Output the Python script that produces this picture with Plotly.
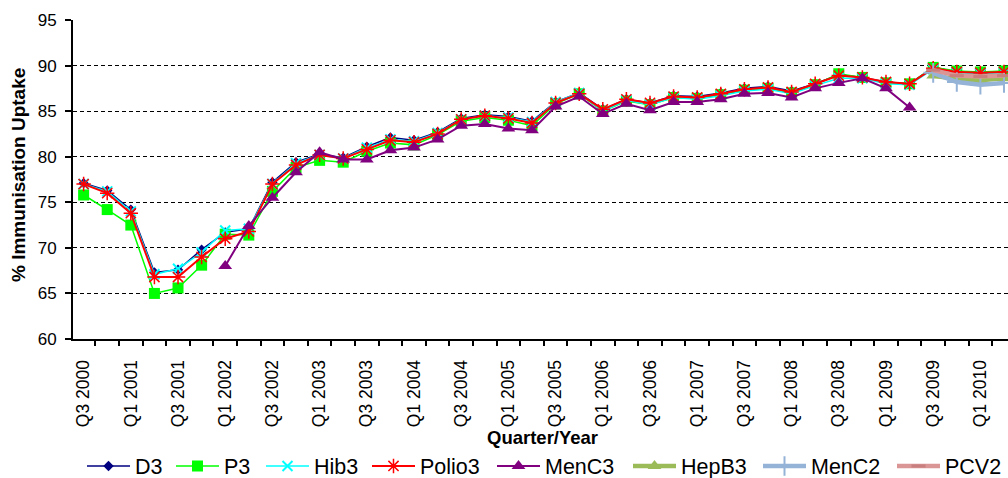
import plotly.graph_objects as go

# ---- data ----
quarters = []
for yr in range(2000, 2011):
    for q in (1, 2, 3, 4):
        quarters.append(f"Q{q} {yr}")
quarters = quarters[2:42]  # Q3 2000 .. Q2 2010

d3 = [77.1, 76.3, 74.2, 67.3, 67.6, 69.8, 71.7, 72.1, 77.2, 79.4,
      80.3, 79.9, 81.1, 82.1, 81.8, 82.7, 84.2, 84.6, 84.4, 83.9,
      86.0, 87.0, 85.2, 86.3, 85.9, 86.7, 86.6, 87.0, 87.5, 87.7,
      87.2, 88.0, 89.0, 88.7, 88.2, 88.0, 89.8, 89.3, 89.2, 89.3]
p3 = [75.8, 74.2, 72.5, 65.0, 65.6, 68.1, 71.5, 71.4, 76.2, 78.8,
      79.6, 79.4, 80.6, 81.5, 81.3, 82.4, 83.9, 84.3, 84.0, 83.4,
      85.8, 86.9, 85.0, 86.1, 85.7, 86.5, 86.4, 86.8, 87.3, 87.5,
      87.0, 87.9, 89.1, 88.7, 88.1, 88.0, 89.8, 89.4, 89.3, 89.4]
hib3 = [77.0, 76.2, 74.0, 67.1, 67.7, 69.5, 71.9, 72.1, 77.0, 79.3,
        80.2, 79.8, 81.0, 81.9, 81.7, 82.6, 84.1, 84.5, 84.3, 83.8,
        86.0, 87.0, 85.0, 86.2, 85.7, 86.5, 86.3, 86.7, 87.2, 87.4,
        86.9, 87.8, 88.6, 88.6, 88.0, 87.9, 89.6, 89.2, 89.1, 89.2]
polio3 = [77.0, 76.0, 73.8, 66.8, 66.8, 69.0, 71.0, 71.8, 77.0, 79.1,
          80.2, 79.8, 80.8, 81.8, 81.6, 82.5, 84.1, 84.5, 84.2, 83.7,
          85.9, 86.9, 85.2, 86.3, 85.9, 86.6, 86.5, 86.9, 87.4, 87.6,
          87.1, 88.0, 88.9, 88.7, 88.2, 88.0, 89.7, 89.3, 89.2, 89.3]
menc3 = [None] * 6 + [68.0, 72.4, 75.5, 78.3,
                      80.5, 79.7, 79.7, 80.7, 81.0, 81.9, 83.4, 83.6, 83.1, 82.9,
                      85.5, 86.6, 84.7, 85.8, 85.1, 86.0, 86.0, 86.3, 86.9, 87.0,
                      86.5, 87.5, 88.1, 88.6, 87.5, 85.4] + [None] * 4
hepb3 = [None] * 36 + [88.9, 88.5, 88.4, 88.6]
menc2 = [None] * 36 + [89.2, 88.2, 87.9, 88.1]
pcv2 = [None] * 36 + [89.5, 88.9, 88.8, 88.9]

tick_text = [q if i % 2 == 0 else "" for i, q in enumerate(quarters)]

FONT = "Arial, Liberation Sans, sans-serif"

series = [
    ("D3", d3, "#000080", 1.5, dict(symbol="diamond", size=8, color="#000080")),
    ("P3", p3, "#00FF00", 1.5, dict(symbol="square", size=11, color="#00FF00")),
    ("Hib3", hib3, "#00FFFF", 1.5, dict(symbol="x-thin-open", size=10, color="#00FFFF",
                                       line=dict(width=2, color="#00FFFF"))),
    ("Polio3", polio3, "#FF0000", 2, dict(symbol="asterisk-open", size=12, color="#FF0000",
                                         line=dict(width=1.5, color="#FF0000"))),
    ("MenC3", menc3, "#800080", 2, dict(symbol="triangle-up", size=12, color="#800080")),
    ("HepB3", hepb3, "#9BBB59", 4.5, dict(symbol="triangle-up", size=12, color="#9BBB59")),
    ("MenC2", menc2, "#95B3D7", 4.5, dict(symbol="cross-thin-open", size=14, color="#95B3D7",
                                         line=dict(width=2, color="#95B3D7"))),
    ("PCV2", pcv2, "#D99694", 4.5, dict(symbol="line-ew-open", size=10, color="#C97F7D",
                                       line=dict(width=3, color="#C97F7D"))),
]

L, T, PW, PH = 73, 20, 935, 319
W, H = 1008, 478

def px_x(px):
    return (px - L) / PW

def px_y(py):
    return (T + PH - py) / PH

# legend line starts in pixels (reference)
leg_px = [87, 176, 266, 372, 497, 633, 763, 897]

fig = go.Figure()
layout_legends = {}
for k, (name, vals, col, w, mk) in enumerate(series):
    lname = "legend" if k == 0 else f"legend{k+1}"
    fig.add_trace(go.Scatter(
        x=quarters, y=vals, name=name, mode="lines+markers",
        line=dict(color=col, width=w), marker=mk,
        connectgaps=False, cliponaxis=False, legend=lname,
    ))
    layout_legends[lname] = dict(
        x=px_x(leg_px[k] - 5), y=px_y(466),
        xanchor="left", yanchor="middle", orientation="h",
        font=dict(family=FONT, size=21.5, color="black"),
        itemwidth=43, bgcolor="rgba(0,0,0,0)", borderwidth=0,
    )

fig.update_layout(
    width=W, height=H,
    margin=dict(l=L, r=0, t=T, b=H - T - PH, autoexpand=False),
    paper_bgcolor="white", plot_bgcolor="white",
    font=dict(family=FONT, color="black"),
    showlegend=True,
    **layout_legends,
)

fig.update_xaxes(
    type="category", categoryorder="array", categoryarray=quarters,
    range=[-0.45, 39.17],
    tickmode="array", tickvals=quarters, ticktext=tick_text,
    tickson="boundaries", ticks="outside", ticklen=5, tickwidth=1.5, tickcolor="black",
    tickangle=-90, tickfont=dict(family=FONT, size=17.5, color="black"),
    ticklabelstandoff=12,
    showline=True, linecolor="black", linewidth=2,
    showgrid=False, zeroline=False, automargin=False,
)
fig.update_yaxes(
    range=[60, 95], dtick=5, tick0=60,
    ticks="outside", ticklen=6, tickwidth=1.5, tickcolor="black",
    tickfont=dict(family=FONT, size=17, color="black"),
    ticklabelstandoff=5,
    showline=True, linecolor="black", linewidth=2,
    showgrid=True, gridcolor="black", gridwidth=1, griddash="4px,3px",
    zeroline=False, automargin=False,
)

fig.add_annotation(
    text="<b>% Immunisation Uptake</b>", xref="paper", yref="paper",
    x=px_x(18), y=px_y(175), xanchor="center", yanchor="middle", textangle=-90,
    showarrow=False, font=dict(family=FONT, size=19, color="black"),
)
fig.add_annotation(
    text="<b>Quarter/Year</b>", xref="paper", yref="paper",
    x=px_x(542), y=px_y(437), xanchor="center", yanchor="middle",
    showarrow=False, font=dict(family=FONT, size=18.5, color="black"),
)

fig.write_html(
    "out.html",
    config={"displayModeBar": False},
    post_script="document.body.style.margin='0px';"
                "document.documentElement.style.overflow='hidden';",
)
